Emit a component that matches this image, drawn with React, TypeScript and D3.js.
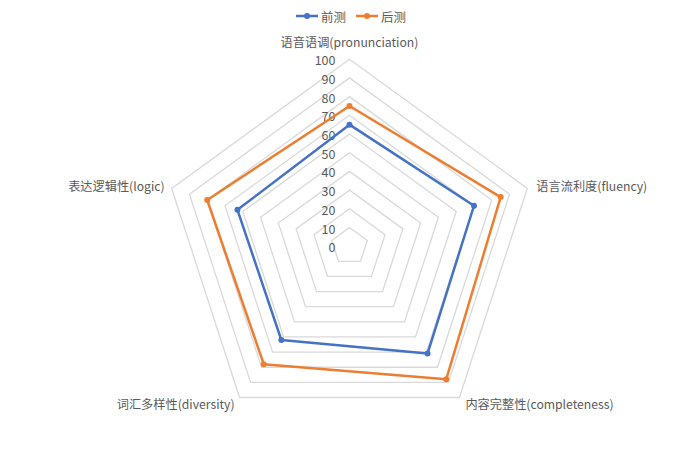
import React from "react";
import * as d3 from "d3";

const categories = [
  "语音语调(pronunciation)",
  "语言流利度(fluency)",
  "内容完整性(completeness)",
  "词汇多样性(diversity)",
  "表达逻辑性(logic)",
];
const seriesNames = ["前测", "后测"];
const preValues = [65, 70, 71, 62, 63];
const postValues = [75, 85, 88, 78, 80];
const tickValues = [0, 10, 20, 30, 40, 50, 60, 70, 80, 90, 100];
const colors = ["#4472C4", "#ED7D31"];

const W = 699;
const H = 466;
const cx = 349.5;
const cy = 246.2;
const R = 187;
const FONT = "'Noto Sans CJK SC', 'Noto Sans', sans-serif";

export default function App() {
  const r = d3.scaleLinear().domain([0, 100]).range([0, R]);
  const angle = (i: number) => (i * 2 * Math.PI) / categories.length;
  const pt = (i: number, v: number): [number, number] => [
    cx + r(v) * Math.sin(angle(i)),
    cy - r(v) * Math.cos(angle(i)),
  ];
  const line = d3.line<[number, number]>().curve(d3.curveLinearClosed);
  const series = [preValues, postValues];

  const labelOffsets: [number, number, string][] = [
    [0, -17.5, "middle"],
    [9, -2, "start"],
    [6, 6.5, "start"],
    [-5, 6.5, "end"],
    [-7, -2, "end"],
  ];

  return (
    <svg width={W} height={H} style={{ display: "block", position: "absolute", left: 0, top: 0 }} fontFamily={FONT}>
      <rect width={W} height={H} fill="#fff" />
      {tickValues.slice(1).map((t) => (
        <path
          key={t}
          d={line(categories.map((_, i) => pt(i, t))) || ""}
          fill="none"
          stroke="#d9d9d9"
          strokeWidth={1.3}
        />
      ))}
      {tickValues.map((t) => (
        <text
          key={"t" + t}
          x={cx - 14}
          y={cy - r(t) + 0.5}
          textAnchor="end"
          dominantBaseline="central"
          fontSize={12.5}
          fill="#595959"
        >
          {t}
        </text>
      ))}
      {series.map((vals, s) => (
        <g key={s}>
          <path
            d={line(vals.map((v, i) => pt(i, v))) || ""}
            fill="none"
            stroke={colors[s]}
            strokeWidth={2.5}
            strokeLinejoin="round"
          />
          {vals.map((v, i) => {
            const [x, y] = pt(i, v);
            return <circle key={i} cx={x} cy={y} r={3} fill={colors[s]} />;
          })}
        </g>
      ))}
      {categories.map((c, i) => {
        const [x, y] = pt(i, 100);
        const [dx, dy, anchor] = labelOffsets[i];
        return (
          <text
            key={c}
            x={x + dx}
            y={y + dy}
            textAnchor={anchor as any}
            dominantBaseline="central"
            fontSize={12.2}
            fill="#595959"
          >
            {c}
          </text>
        );
      })}
      {seriesNames.map((n, s) => {
        const x0 = 296 + s * 60;
        return (
          <g key={n}>
            <line x1={x0} x2={x0 + 22} y1={16} y2={16} stroke={colors[s]} strokeWidth={2.5} />
            <circle cx={x0 + 11} cy={16} r={3} fill={colors[s]} />
            <text x={x0 + 25} y={16} dominantBaseline="central" fontSize={12.5} fill="#595959">
              {n}
            </text>
          </g>
        );
      })}
    </svg>
  );
}
